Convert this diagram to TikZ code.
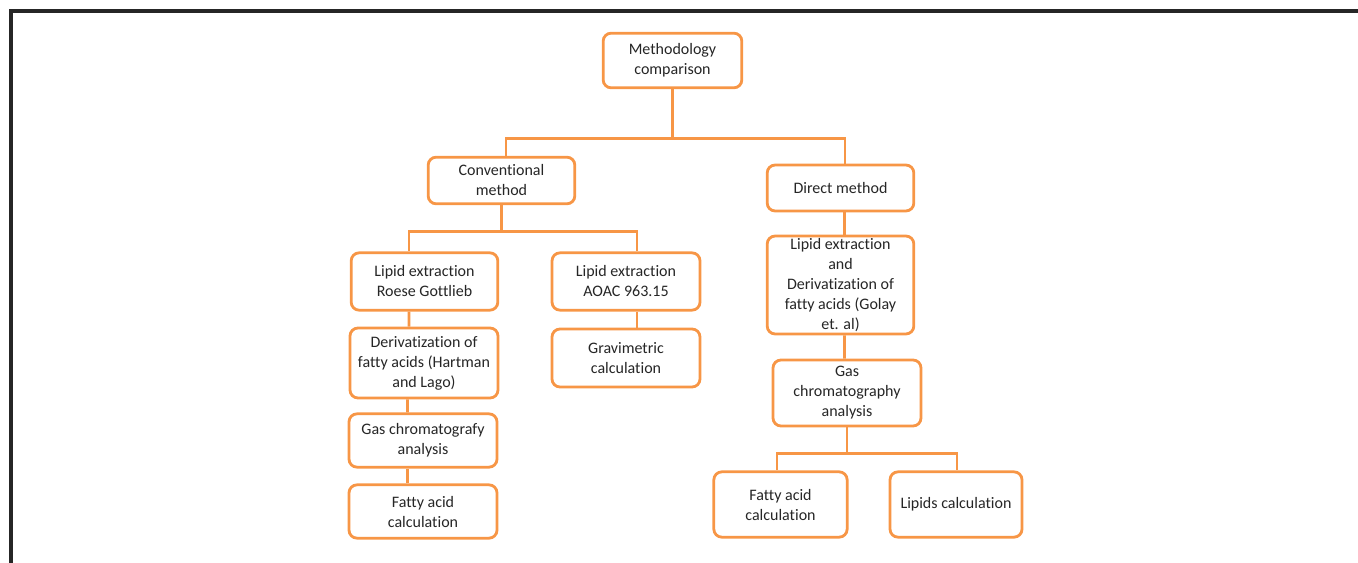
\documentclass[tikz,border=0pt]{standalone}
\usepackage{fontspec}
\setmainfont{Carlito}[Ligatures=NoCommon]
\usepackage{xcolor}
\usepackage{tikz}
\usetikzlibrary{positioning,calc}

\definecolor{boxorange}{HTML}{F79646}
\definecolor{textgray}{HTML}{262626}

\begin{document}
\begin{tikzpicture}[x=0.75pt, y=-0.75pt]
				\tikzset{
					box/.style={rectangle, rounded corners=6pt, draw=boxorange, line width=2.1pt, fill=white,
						align=center, inner xsep=2pt, inner ysep=0pt, minimum width=111pt, minimum height=43pt,
						text=textgray, font=\fontsize{12}{15}\selectfont},
					link/.style={draw=boxorange, line width=2.1pt},
					frame/.style={draw=black!85, line width=2.3pt}
				}
				\useasboundingbox (0,0) rectangle (1358,563);
				\draw[frame] (11,563) -- (11,11) -- (1362,11);
				
				% ---- Root ----
				\node[box, minimum width=104pt, minimum height=41pt] (top) at (672.5,60.5) {Methodology\\comparison};
				
				% ---- Conventional branch ----
				\node[box, minimum width=110pt, minimum height=35pt] (conv) at (501.5,180.5) {Conventional\\method};
				\node[box, minimum width=110pt] (lre) at (424.5,281.5) {Lipid extraction\\Roese Gottlieb};
				\node[box] (aoac) at (626,281.5) {Lipid extraction\\AOAC 963.15};
				\node[box, minimum height=52.5pt] (deriv) at (424,363) {Derivatization of\\fatty acids (Hartman\\and Lago)};
				\node[box, minimum height=43.5pt] (grav) at (626,358) {Gravimetric\\calculation};
				\node[box, minimum height=40pt] (gcl) at (423,440.5) {Gas chromatografy\\analysis};
				\node[box, minimum height=40pt] (facl) at (423,511.5) {Fatty acid\\calculation};
				
				% ---- Direct branch ----
				\node[box, minimum width=110pt, minimum height=34.5pt] (direct) at (840.5,188) {Direct method};
				\node[box, minimum width=110pt, minimum height=73.5pt] (ledm) at (840.5,285) {Lipid extraction\\and\\Derivatization of\\fatty acids (Golay\\et. al)};
				\node[box, minimum height=49.5pt] (gcr) at (847,393) {Gas\\chromatography\\analysis};
				\node[box, minimum width=100pt, minimum height=49pt] (facr) at (780.5,504.5) {Fatty acid\\calculation};
				\node[box, minimum width=99pt, minimum height=49pt] (lipc) at (956,504.5) {Lipids calculation};
				
				% ---- Connectors ----
				\draw[link] (top.south) -- ++(0,49) -| ([xshift=3.4pt]conv.north);
				\draw[link] (top.south) -- ++(0,49) -| ([xshift=3.4pt]direct.north);
				
				\draw[link] (conv.south) -- ++(0,26) -| ([xshift=-11.6pt]lre.north);
				\draw[link] (conv.south) -- ++(0,26) -| ([xshift=8.25pt]aoac.north);
				\draw[link] ([xshift=-11.6pt]lre.south) -- ([xshift=-11.2pt]deriv.north);
				\draw[link] ([xshift=-12.4pt]deriv.south) -- ([xshift=-11.6pt]gcl.north);
				\draw[link] ([xshift=-11.6pt]gcl.south) -- ([xshift=-11.6pt]facl.north);
				\draw[link] ([xshift=8.25pt]aoac.south) -- ([xshift=8.25pt]grav.north);
				
				\draw[link] ([xshift=3pt]direct.south) -- ([xshift=3pt]ledm.north);
				\draw[link] ([xshift=3pt]ledm.south) -- ([xshift=-1.9pt]gcr.north);
				\draw[link] (gcr.south) -- ++(0,26) -| ([xshift=-2.6pt]facr.north);
				\draw[link] (gcr.south) -- ++(0,26) -| ([xshift=0.75pt]lipc.north);
			\end{tikzpicture}
\end{document}
